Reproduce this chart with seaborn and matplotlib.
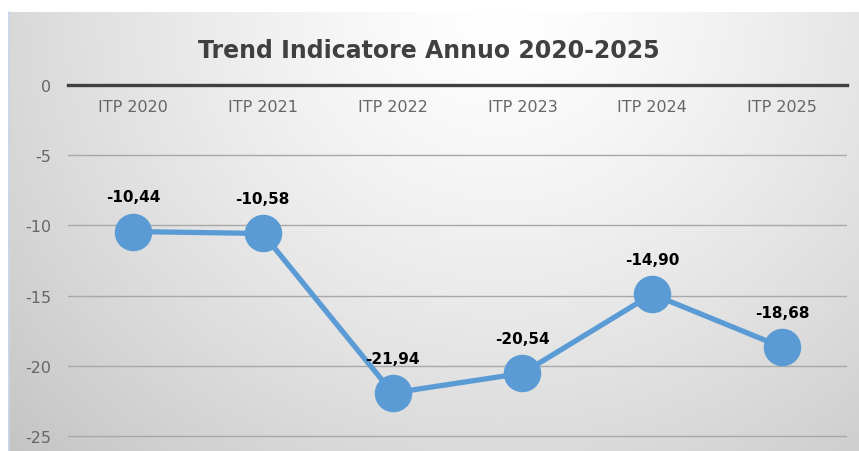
import numpy as np
import pandas as pd
import matplotlib
matplotlib.use("Agg")
import matplotlib.pyplot as plt
import seaborn as sns

categories = ["ITP 2020", "ITP 2021", "ITP 2022", "ITP 2023", "ITP 2024", "ITP 2025"]
values = [-10.44, -10.58, -21.94, -20.54, -14.90, -18.68]
y_ticks = [0, -5, -10, -15, -20, -25]
title = "Trend Indicatore Annuo 2020-2025"

sns.set_theme(style="white")
plt.rcParams["font.family"] = ["DejaVu Sans"]

W, H = 859, 452
fig = plt.figure(figsize=(W / 100, H / 100), dpi=100)
fig.patch.set_facecolor("white")

# gradient background of chart box
bg = fig.add_axes([8 / W, 0, 851 / W, (H - 13) / H], zorder=0)
ny, nx = 200, 400
xx, yy = np.meshgrid(np.linspace(0, 1, nx), np.linspace(0, 1, ny))
d = np.sqrt(((xx - 0.58) / 0.72) ** 2 + ((yy - 0.0) / 1.3) ** 2)
g = 1.0 - 0.2 * np.clip(d, 0, 1.2) ** 1.3
img = np.dstack([g, g, g])
bg.imshow(img, aspect="auto", extent=[0, 1, 1, 0], origin="upper")
bg.set_axis_off()
fig.add_artist(plt.Line2D([8.5 / W, 8.5 / W], [0, (H - 13) / H], color="#c9d7ea", lw=1.2))

ax = fig.add_axes([68 / W, 1 - 439 / H, (847 - 68) / W, (439 - 86) / H], zorder=1)
ax.patch.set_alpha(0)

df = pd.DataFrame({"cat": categories, "val": values})
sns.lineplot(data=df, x="cat", y="val", ax=ax, color="#5b9bd5", lw=3.8,
             marker="o", markersize=27, markeredgewidth=0, zorder=3, sort=False)

ax.set_xlim(-0.5, len(categories) - 0.5)
ax.set_ylim(-25.15, 0)
ax.set_yticks(y_ticks)
ax.set_yticklabels([str(t) for t in y_ticks])
ax.yaxis.grid(True, color="#a8a8a8", lw=1.0)
ax.set_axisbelow(True)

for s in ["top", "left", "right"]:
    ax.spines[s].set_visible(False)
ax.spines["bottom"].set_position(("data", 0))
ax.spines["bottom"].set_color("#404040")
ax.spines["bottom"].set_linewidth(2.4)
ax.spines["bottom"].set_zorder(2)

ax.set_xticks(range(len(categories)))
ax.set_xticklabels(categories)
ax.set_xticks(np.arange(-0.5, len(categories), 1.0), minor=True)
ax.tick_params(axis="x", which="major", length=0, pad=10, labelsize=11.5, labelcolor="#666666")
ax.tick_params(axis="x", which="minor", length=4, width=2, color="#404040", direction="out")
ax.tick_params(axis="y", length=0, pad=12, labelsize=11.5, labelcolor="#666666")
ax.set_xlabel("")
ax.set_ylabel("")

for i, v in enumerate(values):
    ax.annotate(f"{v:.2f}".replace(".", ","), (i, v), xytext=(0, 25), textcoords="offset points",
                ha="center", va="center", fontsize=11, fontweight="bold", color="black", zorder=4)

fig.text(429 / W, 1 - 51 / H, title, ha="center", va="center", fontsize=17,
         fontweight="bold", color="#404040")

fig.savefig("out.png", dpi=100)
